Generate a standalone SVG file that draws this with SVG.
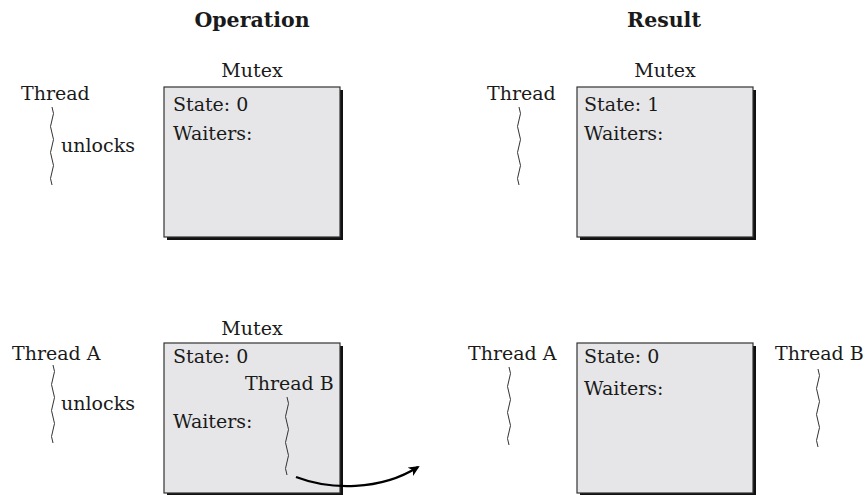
<svg xmlns="http://www.w3.org/2000/svg" width="867" height="495" viewBox="0 0 867 495">
<style>
text{font-family:"DejaVu Serif","Liberation Serif",serif;font-size:19px;fill:#1a1a1a}
.h{font-weight:bold;font-size:20.5px}
.c{text-anchor:middle}
.box{fill:#e6e6e8;stroke:#333;stroke-width:1.2}
.sh{fill:#111}
.wave{fill:none;stroke:#333;stroke-width:1}
.conn{fill:none;stroke:#000;stroke-width:2.2}
</style>
<defs>
<path id="wv" d="M0,0 q3,6.5 0,13 t0,13 t0,13 t0,13 t0,13 t0,13"/>
<marker id="ah" markerWidth="12" markerHeight="10" refX="9" refY="5" orient="auto" markerUnits="userSpaceOnUse">
<path d="M0,0 L11,5 L0,10 L3,5 Z" fill="#000"/>
</marker>
</defs>
<text class="h c" x="252" y="27">Operation</text>
<text class="h c" x="664" y="27">Result</text>

<g id="op1">
<text class="c" x="252" y="77">Mutex</text>
<rect class="sh" x="167" y="90" width="176" height="150"/>
<rect class="box" x="164" y="87" width="176" height="150"/>
<text x="173" y="111">State: 0</text>
<text x="173" y="140">Waiters:</text>
</g>
<g id="op1-thread">
<text x="21" y="100">Thread</text>
<use href="#wv" class="wave" x="52" y="107"/>
<text x="61" y="152">unlocks</text>
</g>

<g id="res1">
<text class="c" x="665" y="77">Mutex</text>
<rect class="sh" x="580" y="90" width="176" height="150"/>
<rect class="box" x="577" y="87" width="176" height="150"/>
<text x="584" y="111">State: 1</text>
<text x="584" y="140">Waiters:</text>
</g>
<g id="res1-thread">
<text x="487" y="100">Thread</text>
<use href="#wv" class="wave" x="519" y="107"/>
</g>

<g id="op2">
<text class="c" x="252" y="335">Mutex</text>
<rect class="sh" x="167" y="346" width="176" height="150"/>
<rect class="box" x="164" y="343" width="176" height="150"/>
<text x="173" y="363">State: 0</text>
<text x="173" y="428">Waiters:</text>
</g>
<g id="op2-threadA">
<text x="12" y="360">Thread A</text>
<use href="#wv" class="wave" x="53" y="365"/>
<text x="61" y="410">unlocks</text>
</g>
<g id="op2-threadB">
<text x="245" y="390">Thread B</text>
<use href="#wv" class="wave" x="287" y="397"/>
</g>

<g id="res2">
<rect class="sh" x="580" y="346" width="176" height="150"/>
<rect class="box" x="577" y="343" width="176" height="150"/>
<text x="584" y="363">State: 0</text>
<text x="584" y="395">Waiters:</text>
</g>
<g id="res2-threadA">
<text x="468" y="360">Thread A</text>
<use href="#wv" class="wave" x="509" y="367"/>
</g>
<g id="res2-threadB">
<text x="775" y="360">Thread B</text>
<use href="#wv" class="wave" x="818" y="369"/>
</g>

<g id="connectors">
<path class="conn" d="M296,477 C330,490 380,491 418,467" marker-end="url(#ah)"/>
</g>
</svg>
